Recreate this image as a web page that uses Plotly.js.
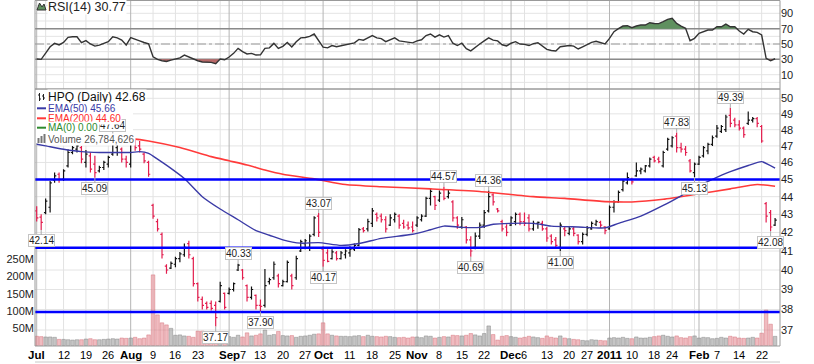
<!DOCTYPE html>
<html><head><meta charset="utf-8">
<script src="https://cdn.plot.ly/plotly-3.0.1.min.js"></script>
<style>html,body{margin:0;padding:0;background:#fff;}#chart{width:814px;height:364px;}</style>
</head><body><div id="chart"></div>
<script>
// ---------- DATA ----------
// trading-day index 0 = 1 Jul 2010 ... 165 = 25 Feb 2011
const tickIdx  = [0,6,11,16,21,26,31,36,43,46,50,55,60,64,70,75,80,85,90,95,100,106,109,114,119,123,128,133,138,142,148,152,157,162];
const tickText = ['Jul','12','19','26','Aug','9','16','23','Sep','7','13','20','27','Oct','11','18','25','Nov','8','15','22','Dec','6','13','20','27','2011','10','18','24','Feb','7','14','22'];
const weekIdx  = [2,6,11,16,26,31,36,41,46,50,55,60,70,75,80,90,95,100,104,109,114,119,123,133,138,142,147,152,157,162];
const monthIdx = [0,21,43,64,85,106,128,148];

const opens = [43.20,42.85,43.10,43.40,44.95,45.30,45.00,45.80,46.60,46.80,46.90,46.00,46.40,45.90,45.50,45.70,45.90,46.50,46.90,46.80,46.20,
45.90,47.30,47.00,46.50,46.00,43.50,42.60,41.90,40.20,40.10,40.30,40.60,40.80,41.40,40.60,39.30,38.50,38.30,38.30,38.20,38.40,38.80,
38.80,39.00,40.00,40.00,39.20,38.60,38.70,38.20,38.20,39.40,39.60,39.70,39.20,39.40,39.70,39.60,41.00,41.40,41.20,41.90,42.90,
41.10,40.90,40.60,40.90,40.60,40.80,40.90,41.10,41.30,42.20,42.20,42.50,43.00,42.90,42.70,42.40,42.70,42.90,42.50,42.40,42.30,
42.40,42.70,42.90,43.90,44.00,43.80,44.40,44.00,43.70,42.80,42.30,42.30,41.60,41.20,41.80,42.40,43.20,44.10,43.30,42.60,42.30,
42.40,42.60,43.00,42.60,42.80,42.20,42.50,42.50,42.20,41.80,41.60,41.20,42.20,41.95,42.20,41.85,41.50,41.90,42.20,42.45,42.55,42.30,
42.20,43.40,43.70,44.40,44.80,45.00,45.20,45.50,45.50,45.80,46.30,46.20,45.80,46.80,47.00,47.60,46.90,46.80,46.10,45.40,
45.90,46.40,46.70,47.10,47.60,47.90,48.00,48.90,48.60,48.30,48.10,48.40,48.60,48.70,48.20,43.60,43.10,42.40];
const highs = [43.45,43.00,43.90,44.90,45.40,45.40,45.60,46.80,47.00,47.10,47.00,46.75,46.60,46.40,45.80,46.10,46.40,47.64,47.20,46.90,46.40,
47.50,47.40,47.30,46.60,46.10,43.60,42.75,42.00,40.30,40.45,40.70,40.95,41.40,41.55,40.70,39.35,38.65,38.40,38.45,38.40,39.40,38.85,
39.10,39.35,40.33,40.05,39.25,39.15,38.75,38.50,40.05,39.60,40.45,39.80,39.50,40.50,39.80,40.75,41.60,41.65,41.90,42.90,43.07,
41.25,41.10,41.10,41.00,41.00,41.10,41.25,41.40,42.25,42.30,42.75,43.35,43.10,43.05,42.90,43.00,43.10,43.00,42.70,42.60,42.60,
42.90,43.00,44.00,44.50,44.05,44.35,44.57,44.40,43.80,42.90,42.85,42.35,41.80,42.00,42.55,43.25,44.36,44.20,43.35,42.70,42.45,
42.90,43.10,43.10,43.10,43.00,42.65,42.60,42.65,42.30,41.90,41.75,42.55,42.30,42.35,42.30,41.90,42.00,42.35,42.60,42.70,42.65,42.35,
43.50,43.80,44.35,45.00,45.40,45.10,46.00,45.70,45.85,46.30,46.40,46.35,46.70,47.50,47.60,47.83,47.20,47.00,46.20,46.00,
46.40,47.00,47.20,47.64,48.30,48.30,48.95,49.39,48.75,48.60,48.20,49.15,48.80,48.80,48.30,43.70,43.25,42.80];
const lows = [42.60,42.14,43.00,43.10,44.80,44.80,44.90,45.70,46.50,46.60,45.95,45.70,45.40,45.09,45.40,45.55,45.70,46.40,46.40,46.00,45.70,
45.70,46.70,46.60,45.95,45.15,42.75,42.05,40.60,39.80,40.05,40.15,40.40,40.70,40.60,39.15,38.40,38.00,38.00,37.95,37.17,38.35,38.00,
38.75,38.90,39.95,39.50,38.40,38.50,38.00,37.90,38.10,39.25,39.50,39.10,39.15,39.35,39.00,39.50,40.95,41.10,41.00,41.80,41.75,
40.17,40.40,40.55,40.50,40.55,40.60,40.70,41.00,41.25,42.00,42.05,42.30,42.60,42.55,42.00,42.35,42.55,42.20,42.20,42.15,42.00,
42.30,42.60,42.85,43.50,43.25,43.70,43.80,43.90,42.60,42.20,42.20,41.40,40.69,41.10,41.65,42.25,43.10,43.50,43.10,42.05,41.80,
42.35,42.40,42.40,42.35,42.05,42.10,42.20,42.10,41.50,41.35,41.20,41.00,41.80,41.85,41.80,41.35,41.35,41.80,42.15,42.35,42.25,41.90,
42.15,43.10,43.65,44.30,44.70,44.70,45.15,45.30,45.40,45.70,46.00,45.95,45.70,46.70,46.90,46.60,46.60,46.40,45.40,45.13,
45.85,46.30,46.50,47.00,47.50,47.80,47.85,48.15,48.15,47.95,47.50,48.30,48.45,48.15,47.20,42.55,42.08,42.35];
const closes = [42.80,42.55,43.75,44.80,45.20,45.00,45.50,46.60,46.90,47.00,46.20,46.50,45.60,45.40,45.70,46.00,46.30,47.10,47.15,46.20,46.00,
47.30,46.90,46.80,46.10,45.30,42.90,42.20,40.80,40.00,40.35,40.60,40.85,41.20,40.80,39.30,38.60,38.20,38.10,38.05,37.60,39.20,38.10,
39.00,39.30,40.25,39.60,38.60,39.00,38.20,38.15,39.20,39.50,40.30,39.30,39.40,40.40,39.20,40.60,41.50,41.55,41.80,42.80,42.00,
40.50,40.45,40.95,40.60,40.90,41.00,41.10,41.30,42.15,42.10,42.60,43.20,42.80,42.70,42.20,42.80,43.00,42.40,42.30,42.25,42.10,
42.80,42.90,43.90,44.30,43.50,44.20,43.90,44.20,42.80,42.40,42.70,41.60,41.00,41.80,42.40,43.10,44.00,43.70,43.20,42.20,42.00,
42.80,43.00,42.60,42.50,42.20,42.50,42.55,42.20,41.70,41.50,41.30,42.40,42.10,42.20,41.95,41.50,41.90,42.25,42.50,42.60,42.40,42.10,
43.40,43.70,44.25,44.90,45.10,44.85,45.50,45.60,45.80,46.20,46.10,46.05,46.60,47.40,47.50,46.90,46.80,46.60,45.50,45.90,
46.30,46.90,47.10,47.50,48.10,48.20,48.80,48.40,48.30,48.10,47.70,48.60,48.70,48.40,47.30,42.90,42.30,42.68];
// volume in millions of shares
const volumes = [27,26,25,25,24,18,18,17,16,17,17,19,20,17,17,18,19,20,19,22,21,
22,24,20,22,31,205,89,66,60,50,30,31,28,27,24,42,42,32,33,38,28,30,
26,24,30,25,37,28,30,34,45,30,32,41,29,28,29,24,27,28,30,33,34,
66,34,30,28,27,27,26,28,29,26,30,27,26,25,27,26,24,23,24,22,25,
25,23,28,27,22,24,26,25,30,29,28,30,35,31,28,35,57,32,16,27,29,
26,24,22,24,27,25,23,21,28,24,22,28,22,20,18,17,15,14,17,16,15,14,
22,23,22,24,21,20,25,22,22,24,26,28,30,27,25,28,23,22,26,28,
22,24,23,20,21,24,22,27,25,22,21,22,24,22,36,103,62,26.784626];
const ema50Idx = [0,2,6,10,14,17,21,23,25,27,30,33,37,41,45,49,52,55,59,63,68,72,77,84,88,91,95,99,102,106,111,115,121,127,130,135,140,144,147,151,155,159,162,165];
const ema50Val = [47.1,47.0,46.8,46.65,46.6,46.6,46.6,46.65,46.55,46.2,45.65,45.05,44.0,43.3,42.7,42.1,41.85,41.6,41.42,41.45,41.3,41.4,41.68,41.9,42.15,42.35,42.28,42.28,42.45,42.5,42.5,42.35,42.3,42.25,42.5,42.9,43.5,44.05,44.5,45.0,45.45,45.82,46.05,45.66];
const ema200Idx = [0,10,21,25,32,39,43,47,51,55,62,69,77,88,99,111,118,127,133,140,147,155,161,165];
const ema200Val = [47.8,47.68,47.45,47.3,46.9,46.35,46.1,45.85,45.55,45.3,45.03,44.7,44.57,44.45,44.3,44.0,43.9,43.72,43.7,43.85,44.12,44.45,44.7,44.6];
const rsi = [30.5,30,38,46.4,50.8,48.8,52,58.7,59.5,59.5,51.7,54.4,50,47.3,48.5,50.8,53,59.5,58,55.2,48.6,
58.2,56.5,54,52,50.3,33.4,30,28.2,27.3,29,30.4,32,35.5,33,30.4,28.2,26.5,26.3,26.1,24.3,30.5,29.5,
33,37.8,44.3,40,37,37.8,35.6,35.9,44.3,45,50.8,44.3,47,52,46,53,58,58.5,60,63,55,
46,45,48,46.5,48,49,50,51.5,56,55,58,61,58,57,53,56,58,54,53,52.5,51.5,
54,55.5,61,63,59,62,59,61,51,48,51,44,41,46,50,54,58,55,54,49,47.5,
51,53,50,49.5,48,50.5,51.7,47,43,41.5,40.8,46.4,47.7,48,47.3,43.5,46.4,49.5,52.2,53.5,51.3,50,
57.4,66,70,73.4,73.8,71.2,73.4,74.7,74.7,77.7,76.8,76.5,79.1,82,83.4,76.8,73.4,70.4,54.3,57.4,
63.9,66,68.2,68.2,72.5,72.5,76,72.5,72.5,66.9,63,69.1,66,65.1,61.7,31.3,28.2,30.77];
const levels = [45, 41.17, 37.88];          // blue horizontal lines
const highLabelIdx = [17,45,63,91,101,143,155];
const lowLabelIdx  = [1,13,40,50,64,97,117,147,164];
const boldTicks = ['Jul','Aug','Sep','Oct','Nov','Dec','2011','Feb'];

// ---------- GEOMETRY HELPERS (layout only) ----------
const L=35, R=780, T=0, B=346;
const px = p => (p-L)/(R-L);
const py = p => (B-p)/(B-T);
const split = (B-89)/(B-T);

const idx = closes.map((_,i)=>i);
const up = closes.map((c,i)=> i===0 ? c>=opens[0] : c>=closes[i-1]);
const RED='#e31d4e', BLK='#111';

function subset(cond){
  const o={x:[],open:[],high:[],low:[],close:[]};
  idx.forEach(i=>{ if(cond(i)){o.x.push(i);o.open.push(opens[i]);o.high.push(highs[i]);o.low.push(lows[i]);o.close.push(closes[i]);} });
  return o;
}
function ohlcTrace(s,color){
  return {type:'ohlc',x:s.x,open:s.open,high:s.high,low:s.low,close:s.close,xaxis:'x',yaxis:'y3',
    increasing:{line:{color:color,width:1.2}},decreasing:{line:{color:color,width:1.2}},tickwidth:0.38,hoverinfo:'skip'};
}
function zone(xs,ys,th,above){
  const inZ=v=>above? v>th : v<th;
  const polys=[]; let cur=null;
  for(let k=0;k<xs.length;k++){
    const v=ys[k];
    if(k>0 && inZ(ys[k-1])!==inZ(v)){
      const v0=ys[k-1]; const t=(th-v0)/(v-v0); const xc=xs[k-1]+t*(xs[k]-xs[k-1]);
      if(cur){cur.push([xc,th]);polys.push(cur);cur=null;} else {cur=[[xc,th]];}
    } else if(k===0 && inZ(v)) cur=[[xs[0],th]];
    if(inZ(v)) cur.push([xs[k],v]);
  }
  if(cur){cur.push([xs[xs.length-1],th]);polys.push(cur);}
  const X=[],Y=[];
  polys.forEach(p=>{p.forEach(q=>{X.push(q[0]);Y.push(q[1]);});X.push(null);Y.push(null);});
  return {X,Y};
}

const traces=[];
traces.push({type:'bar',x:idx,y:volumes,xaxis:'x',yaxis:'y',width:0.8,hoverinfo:'skip',
  marker:{color:idx.map(i=>up[i]?'rgba(150,150,150,0.55)':'rgba(225,120,130,0.5)'),
          line:{width:0.6,color:idx.map(i=>up[i]?'rgba(120,120,120,0.7)':'rgba(210,100,110,0.7)')}}});
traces.push({type:'scatter',mode:'lines',x:ema200Idx,y:ema200Val,xaxis:'x',yaxis:'y3',line:{color:'#ff3a3a',width:1.6,shape:'spline',smoothing:0.6},hoverinfo:'skip'});
traces.push({type:'scatter',mode:'lines',x:ema50Idx,y:ema50Val,xaxis:'x',yaxis:'y3',line:{color:'#3a3aa6',width:1.4,shape:'spline',smoothing:0.6},hoverinfo:'skip'});
traces.push(ohlcTrace(subset(i=>up[i]),BLK));
traces.push(ohlcTrace(subset(i=>!up[i]),RED));
const zg=zone(idx,rsi,70,true), zr=zone(idx,rsi,30,false);
traces.push({type:'scatter',mode:'lines',x:zg.X,y:zg.Y,xaxis:'x2',yaxis:'y2',fill:'toself',fillcolor:'#5f905f',line:{width:0},hoverinfo:'skip'});
traces.push({type:'scatter',mode:'lines',x:zr.X,y:zr.Y,xaxis:'x2',yaxis:'y2',fill:'toself',fillcolor:'#b86868',line:{width:0},hoverinfo:'skip'});
traces.push({type:'scatter',mode:'lines',x:idx,y:rsi,xaxis:'x2',yaxis:'y2',line:{color:'#333',width:1.4},hoverinfo:'skip'});

// ---------- SHAPES ----------
const shapes=[];
for(let p=37;p<=50;p++) shapes.push({type:'line',layer:'below',xref:'paper',yref:'y3',x0:0,x1:1,y0:p,y1:p,line:{color:'#e4e4e4',width:1}});
for(let v=0;v<=100;v+=10) shapes.push({type:'line',layer:'below',xref:'paper',yref:'y2',x0:0,x1:1,y0:v,y1:v,line:{color:'#e4e4e4',width:1}});
weekIdx.forEach(i=>shapes.push({type:'line',layer:'below',xref:'x',yref:'paper',x0:i,x1:i,y0:0,y1:1,line:{color:'#e2e2e2',width:1}}));
monthIdx.forEach(i=>shapes.push({type:'line',layer:'below',xref:'x',yref:'paper',x0:i,x1:i,y0:0,y1:1,line:{color:'#b5b5b5',width:1}}));
shapes.push({type:'line',xref:'paper',yref:'y2',x0:0,x1:1,y0:70,y1:70,line:{color:'#8a8a8a',width:1.5},layer:'below'});
shapes.push({type:'line',xref:'paper',yref:'y2',x0:0,x1:1,y0:30,y1:30,line:{color:'#8a8a8a',width:1.5},layer:'below'});
shapes.push({type:'line',xref:'paper',yref:'y2',x0:0,x1:1,y0:50,y1:50,line:{color:'#999',width:1,dash:'dashdot'},layer:'below'});
levels.forEach(v=>shapes.push({type:'line',xref:'paper',yref:'y3',x0:0,x1:1,y0:v,y1:v,line:{color:'#0000ff',width:2.5}}));
shapes.push({type:'rect',xref:'paper',yref:'paper',x0:px(35.5),x1:px(133),y0:py(143),y1:py(89.5),fillcolor:'#fff',line:{width:0}});
shapes.push({type:'line',xref:'paper',yref:'paper',x0:px(37),x1:px(46),y0:py(108.3),y1:py(108.3),line:{color:'#3a3aa6',width:2}});
shapes.push({type:'line',xref:'paper',yref:'paper',x0:px(37),x1:px(46),y0:py(118.3),y1:py(118.3),line:{color:'#ff3a3a',width:2}});
shapes.push({type:'line',xref:'paper',yref:'paper',x0:px(37),x1:px(46),y0:py(127.7),y1:py(127.7),line:{color:'#2e8b2e',width:2}});
[[39.5,93,101],[43.5,94,100]].forEach(b=>{
  shapes.push({type:'line',xref:'paper',yref:'paper',x0:px(b[0]),x1:px(b[0]),y0:py(b[1]),y1:py(b[2]),line:{color:'#222',width:1}});
  shapes.push({type:'line',xref:'paper',yref:'paper',x0:px(b[0]-1.5),x1:px(b[0]),y0:py(b[1]+2),y1:py(b[1]+2),line:{color:'#222',width:1}});
  shapes.push({type:'line',xref:'paper',yref:'paper',x0:px(b[0]),x1:px(b[0]+1.5),y0:py(b[2]-2),y1:py(b[2]-2),line:{color:'#222',width:1}});
});
[[37.5,138],[40.5,136],[43.5,134]].forEach(b=>shapes.push({type:'rect',xref:'paper',yref:'paper',x0:px(b[0]),x1:px(b[0]+2),y0:py(143),y1:py(b[1]),fillcolor:'#777',line:{width:0}}));
shapes.push({type:'path',xref:'paper',yref:'paper',
  path:`M ${px(37)} ${py(10)} L ${px(39.5)} ${py(3)} L ${px(42)} ${py(7)} L ${px(44)} ${py(4)} L ${px(46)} ${py(10)} Z`,
  fillcolor:'#5f905f',line:{color:'#333',width:1}});
shapes.push({type:'rect',xref:'paper',yref:'paper',x0:0,x1:1,y0:0,y1:split,line:{color:'#9a9a9a',width:1}});
shapes.push({type:'rect',xref:'paper',yref:'paper',x0:0,x1:1,y0:split,y1:py(0.5),line:{color:'#9a9a9a',width:1}});
shapes.push({type:'line',xref:'paper',yref:'paper',x0:0,x1:1,y0:py(362),y1:py(362),line:{color:'#c8c8c8',width:1}});

// ---------- ANNOTATIONS ----------
const ann=[];
// price high/low labels first, so the legend rows are drawn over them (as in the reference)
function priceLabel(i,isHigh){
  const v=isHigh?highs[i]:lows[i];
  ann.push({xref:'x',yref:'y3',x:i,y:Math.log10(v),text:v.toFixed(2),showarrow:true,arrowhead:0,arrowwidth:1,arrowcolor:'#aaa',
    ax:0,ay:isHigh?-10:11,bgcolor:'#fff',bordercolor:'#c4c4c4',borderwidth:1,borderpad:0,
    font:{family:'Liberation Sans',size:10,color:'#222'}});
}
highLabelIdx.forEach(i=>priceLabel(i,true));
lowLabelIdx.forEach(i=>priceLabel(i,false));
function legend(text,color,yy,size){ann.push({xref:'paper',yref:'paper',x:px(46.5),y:py(yy),xanchor:'left',yanchor:'middle',text:text,showarrow:false,borderpad:0,
  bgcolor:'#fff',font:{family:'Liberation Sans',size:size,color:color}});}
legend('RSI(14) '+rsi[165].toFixed(2),'#222',6.5,12.5);
legend('HPQ (Daily) '+closes[165].toFixed(2),'#111',97,12);
legend('EMA(50) '+ema50Val[ema50Val.length-1].toFixed(2),'#3a3aa6',108.5,10);
legend('EMA(200) '+ema200Val[ema200Val.length-1].toFixed(2),'#ff2a2a',118.3,10);
legend('MA(0) 0.00','#2e8b2e',127.9,10);
legend('Volume '+Math.round(volumes[165]*1e6).toLocaleString('en-US'),'#555',139,10);
// x-axis tick labels
tickIdx.forEach((i,k)=>{
  const t=tickText[k], b=boldTicks.includes(t);
  ann.push({xref:'x',yref:'paper',x:i,y:py(355),xanchor:'center',yanchor:'middle',showarrow:false,text:b?'<b>'+t+'</b>':t,
    font:{family:'Liberation Sans',size:b?11.5:11,color:'#000'}});
});

const tf={family:'Liberation Sans',size:11,color:'#222'};
const layout={
  width:814,height:364,margin:{l:35,r:34,t:0,b:18,pad:0},paper_bgcolor:'#fff',plot_bgcolor:'rgba(0,0,0,0)',showlegend:false,
  xaxis:{domain:[0,1],anchor:'y',range:[-0.38,166.1],showticklabels:false,showgrid:false,zeroline:false,ticks:'',showline:false,rangeslider:{visible:false},fixedrange:true},
  yaxis:{domain:[0,split],range:[-1.2,744],tickvals:[50,100,150,200,250],ticktext:['50M','100M','150M','200M','250M'],side:'left',
         showgrid:false,zeroline:false,ticks:'',tickfont:tf,fixedrange:true},
  yaxis3:{overlaying:'y',anchor:'x',side:'right',type:'log',range:[1.55917,1.70422],tickvals:[37,38,39,40,41,42,43,44,45,46,47,48,49,50],
         ticktext:['37','38','39','40','41','42','43','44','45','46','47','48','49','50'],showgrid:false,zeroline:false,ticks:'',tickfont:tf,fixedrange:true},
  xaxis2:{domain:[0,1],anchor:'y2',matches:'x',showticklabels:false,showgrid:false,zeroline:false,ticks:'',rangeslider:{visible:false}},
  yaxis2:{domain:[split,1],anchor:'x2',range:[-8.63,107.33],tickvals:[10,30,50,70,90],side:'right',showgrid:false,zeroline:false,ticks:'',tickfont:tf,fixedrange:true},
  shapes:shapes,annotations:ann
};
Plotly.newPlot('chart',traces,layout,{displayModeBar:false,staticPlot:true});
</script></body></html>
